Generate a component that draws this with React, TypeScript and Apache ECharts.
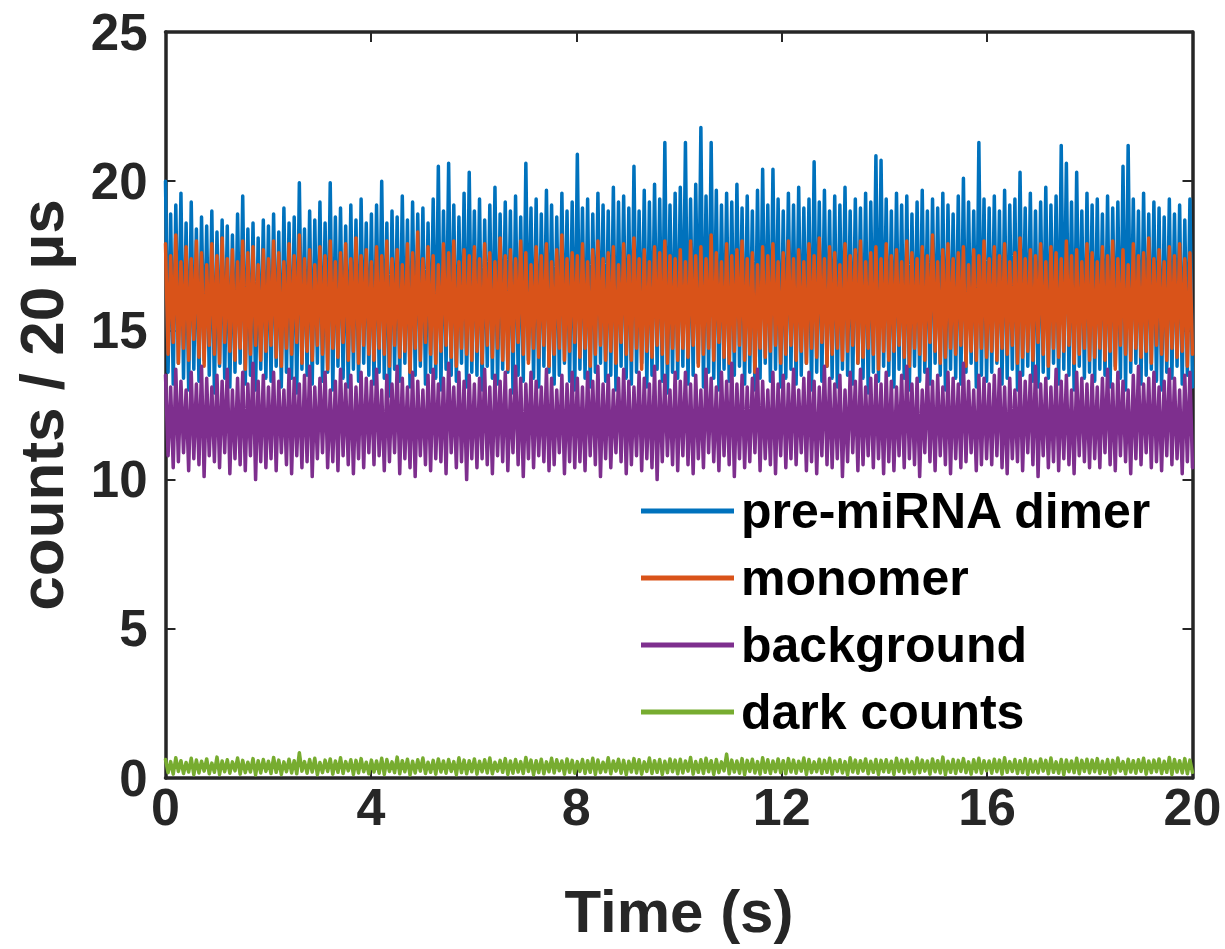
import React, { useEffect, useRef } from "react";
import * as echarts from "echarts";

// ---- categories / labels ----
const seriesNames = ["pre-miRNA dimer", "monomer", "background", "dark counts"];
const seriesColors = ["#0072BD", "#D95319", "#7E2F8E", "#77AC30"];
const xTicks = [0, 4, 8, 12, 16, 20];
const yTicks = [0, 5, 10, 15, 20, 25];
const xTitle = "Time (s)";
const yTitle = "counts / 20 µs";

// ---- series values: upper (peak) and lower (trough) envelope, every 0.1 s ----
const dimerUpper = [
  20.0, 18.9, 19.2, 19.6, 18.6, 19.3, 18.4, 18.8, 18.5, 19.0, 18.3, 18.7, 18.5, 18.2, 18.9, 19.5, 18.4, 18.6, 18.1, 18.7,
  18.5, 18.9, 18.3, 19.1, 18.6, 18.8, 19.95, 18.4, 19.0, 18.7, 19.3, 18.6, 19.95, 18.8, 19.1, 18.5, 19.2, 18.7, 19.4, 18.6,
  18.9, 19.2, 20.0, 18.6, 19.0, 18.8, 19.5, 18.7, 19.3, 18.9, 19.1, 18.6, 19.4, 20.5, 19.0, 20.6, 19.2, 18.8, 19.6, 20.3,
  19.0, 19.4, 18.7, 19.2, 19.8, 18.9, 19.3, 19.0, 19.5, 18.8, 20.6, 19.1, 19.4, 18.9, 19.7, 19.2, 18.8, 19.6, 19.0, 19.3,
  20.9, 19.1, 19.4, 18.9, 19.6, 19.2, 19.0, 19.8, 19.3, 19.5, 19.1, 20.5, 19.0, 19.7, 19.3, 19.9, 19.4, 21.3, 19.2, 19.6,
  19.8, 21.3, 19.4, 19.9, 21.8, 19.5, 21.3, 19.7, 19.2, 19.6, 19.3, 19.9, 19.1, 19.5, 19.0, 19.7, 20.4, 19.2, 20.4, 19.4,
  19.0, 19.6, 19.2, 19.8, 19.1, 19.4, 20.65, 19.3, 19.7, 19.0, 19.5, 19.2, 19.8, 19.0, 19.4, 19.1, 19.6, 19.3, 20.85, 20.7,
  19.4, 19.0, 19.6, 19.2, 19.5, 18.9, 19.3, 19.7, 19.0, 19.4, 19.1, 19.6, 19.2, 18.9, 19.5, 20.1, 19.3, 19.0, 21.3, 19.4,
  19.1, 19.5, 19.0, 19.7, 19.2, 19.4, 20.3, 19.1, 19.6, 19.0, 19.3, 19.8, 19.2, 19.5, 21.2, 20.6, 19.3, 20.3, 19.0, 19.6,
  19.2, 19.4, 18.9, 19.5, 19.1, 19.3, 20.5, 21.2, 19.4, 19.0, 19.6, 18.9, 19.3, 19.1, 18.8, 19.4, 18.9, 19.2, 18.7, 19.4,
];
const dimerLower = [
  13.6, 13.2, 13.9, 13.4, 13.0, 13.7, 13.3, 14.0, 13.5, 12.9, 13.8, 13.4, 13.1, 13.6, 13.9, 13.2, 13.5, 13.0, 13.7, 13.4,
  13.3, 13.8, 13.1, 13.6, 13.4, 12.9, 13.7, 13.5, 13.2, 13.9, 13.3, 13.6, 13.0, 13.8, 13.4, 13.1, 13.7, 13.3, 13.9, 13.5,
  13.2, 13.6, 13.4, 12.8, 13.7, 13.3, 13.9, 13.1, 13.5, 13.8, 13.2, 13.6, 13.4, 13.0, 13.7, 13.5, 13.3, 13.9, 13.1, 13.6,
  13.5, 13.0, 13.8, 13.4, 13.2, 13.7, 13.6, 12.9, 13.5, 13.3, 14.0, 13.4, 13.1, 13.8, 13.6, 13.2, 13.5, 13.9, 13.3, 13.0,
  13.7, 13.4, 13.1, 13.6, 13.9, 13.3, 13.5, 13.0, 13.8, 13.4, 13.2, 13.6, 13.9, 13.1, 13.5, 13.7, 13.3, 12.9, 13.6, 13.4,
  13.8, 13.2, 13.5, 13.9, 13.1, 13.6, 13.4, 13.0, 13.7, 13.3, 13.5, 13.8, 13.2, 13.6, 13.0, 13.4, 13.9, 13.3, 13.7, 13.1,
  13.4, 13.7, 13.2, 13.5, 13.9, 13.0, 13.6, 13.3, 13.8, 13.4, 13.1, 13.7, 13.5, 13.2, 13.9, 13.4, 12.9, 13.6, 13.3, 13.8,
  13.5, 13.1, 13.7, 13.4, 13.0, 13.8, 13.3, 13.6, 13.2, 13.9, 13.5, 13.0, 13.7, 13.4, 13.2, 13.6, 13.9, 13.1, 13.5, 13.3,
  13.6, 13.9, 13.2, 13.4, 13.7, 13.0, 13.5, 13.8, 13.3, 13.1, 13.6, 13.4, 13.9, 13.2, 13.7, 13.5, 13.0, 13.8, 13.4, 13.6,
  13.3, 13.7, 13.5, 13.1, 13.8, 13.4, 13.0, 13.6, 13.9, 13.2, 13.5, 13.7, 13.3, 13.0, 13.6, 13.4, 13.8, 13.2, 13.5, 13.1,
];
const monomerUpper = [
  17.9, 17.5, 18.2, 17.3, 17.8, 17.4, 18.0, 17.6, 17.2, 17.9, 17.5, 18.1, 17.4, 17.7, 17.3, 18.0, 17.6, 17.8, 17.2, 17.7,
  17.4, 18.0, 17.6, 17.3, 17.9, 17.5, 18.2, 17.4, 17.7, 17.2, 17.8, 17.5, 18.0, 17.3, 17.6, 17.9, 17.4, 18.1, 17.5, 17.7,
  17.3, 17.8, 17.5, 18.0, 17.4, 17.7, 17.2, 17.9, 17.6, 18.3, 17.4, 17.8, 17.5, 17.2, 17.9, 17.6, 18.0, 17.3, 17.7, 17.5,
  17.8, 17.4, 17.9, 17.6, 17.3, 18.1, 17.5, 17.7, 17.4, 18.0, 17.6, 17.2, 17.8, 17.5, 17.9, 17.3, 17.7, 18.2, 17.4, 17.6,
  17.5, 17.9, 17.3, 17.7, 18.0, 17.4, 17.6, 17.8, 17.2, 17.9, 17.5, 18.1, 17.4, 17.7, 17.3, 17.8, 17.6, 18.0, 17.5, 17.4,
  17.7, 17.3, 18.0, 17.5, 17.8, 17.4, 18.2, 17.6, 17.3, 17.9, 17.5, 17.7, 18.0, 17.4, 17.6, 17.2, 17.8, 17.5, 17.9, 17.3,
  17.6, 18.0, 17.4, 17.7, 17.3, 17.9, 17.5, 18.1, 17.4, 17.8, 17.6, 17.2, 17.9, 17.5, 17.7, 18.0, 17.3, 17.6, 17.8, 17.4,
  17.9, 17.5, 17.7, 17.3, 18.0, 17.6, 17.4, 17.8, 17.5, 18.2, 17.3, 17.7, 17.9, 17.4, 17.6, 17.8, 17.2, 17.7, 17.5, 18.0,
  17.4, 17.8, 17.5, 17.9, 17.3, 17.6, 18.1, 17.4, 17.7, 17.5, 17.9, 17.3, 17.8, 17.6, 17.4, 18.0, 17.5, 17.7, 17.3, 17.9,
  17.6, 17.3, 17.8, 17.5, 18.0, 17.4, 17.7, 17.2, 17.9, 17.5, 17.6, 18.1, 17.4, 17.7, 17.3, 17.8, 17.5, 17.9, 17.4, 17.6,
];
const monomerLower = [
  14.2, 14.6, 13.9, 14.4, 14.0, 14.7, 14.1, 13.8, 14.5, 14.2, 13.9, 14.6, 14.3, 14.0, 14.4, 13.7, 14.2, 14.5, 14.0, 14.3,
  14.5, 14.1, 13.8, 14.4, 14.2, 14.6, 13.9, 14.3, 14.0, 14.5, 14.2, 13.7, 14.4, 14.1, 14.6, 14.0, 14.3, 13.9, 14.5, 14.2,
  14.0, 14.4, 14.2, 13.8, 14.5, 14.1, 14.3, 13.6, 14.4, 14.0, 14.6, 14.2, 13.9, 14.3, 14.5, 14.1, 13.8, 14.4, 14.2, 14.0,
  14.3, 13.9, 14.5, 14.1, 14.4, 14.0, 13.7, 14.3, 14.6, 14.2, 13.9, 14.4, 14.1, 14.5, 13.8, 14.2, 14.4, 14.0, 14.3, 14.6,
  14.1, 14.4, 13.8, 14.2, 14.5, 14.0, 14.3, 13.9, 14.6, 14.2, 14.0, 14.4, 13.7, 14.3, 14.1, 14.5, 14.2, 13.9, 14.4, 14.0,
  14.4, 14.1, 14.5, 13.8, 14.2, 14.4, 14.0, 14.6, 14.1, 13.9, 14.3, 14.5, 14.0, 14.2, 13.6, 14.4, 14.1, 14.3, 14.5, 13.9,
  14.2, 14.5, 14.0, 14.3, 13.9, 14.4, 14.1, 14.6, 13.8, 14.2, 14.4, 14.0, 14.3, 14.5, 13.9, 14.1, 14.4, 14.2, 13.7, 14.3,
  14.0, 14.3, 14.5, 14.1, 13.8, 14.4, 14.2, 14.0, 14.6, 14.3, 13.9, 14.1, 14.4, 14.2, 14.5, 13.8, 14.3, 14.0, 14.4, 14.1,
  14.3, 14.0, 14.4, 14.2, 14.5, 13.9, 14.1, 14.3, 14.0, 14.6, 14.2, 13.8, 14.4, 14.1, 14.3, 14.5, 13.9, 14.2, 14.4, 14.0,
  14.1, 14.4, 14.0, 14.3, 13.7, 14.5, 14.2, 14.0, 14.4, 14.1, 14.3, 13.9, 14.5, 14.2, 14.0, 14.4, 14.1, 14.3, 13.8, 14.2,
];
const backgroundUpper = [
  13.5, 13.1, 13.7, 13.3, 13.0, 13.6, 13.2, 13.8, 13.4, 13.1, 13.5, 13.3, 13.7, 13.0, 13.4, 13.6, 13.2, 13.9, 13.3, 13.5,
  13.1, 13.6, 13.3, 13.0, 13.7, 13.4, 13.2, 13.5, 13.8, 13.1, 13.4, 13.6, 13.0, 13.3, 13.7, 13.2, 13.5, 13.1, 13.6, 13.4,
  13.3, 13.7, 13.0, 13.5, 13.2, 13.8, 13.4, 13.1, 13.6, 13.3, 13.0, 13.5, 13.7, 13.2, 13.4, 13.9, 13.1, 13.6, 13.3, 13.5,
  13.2, 13.4, 13.7, 13.1, 13.5, 13.3, 13.6, 13.0, 13.8, 13.4, 13.2, 13.6, 13.3, 13.1, 13.7, 13.4, 13.0, 13.5, 13.2, 13.6,
  13.4, 13.1, 13.6, 13.3, 13.8, 13.2, 13.5, 13.0, 13.4, 13.7, 13.3, 13.1, 13.6, 13.4, 13.2, 13.8, 13.3, 13.5, 13.0, 13.6,
  13.3, 13.6, 13.2, 13.5, 13.0, 13.7, 13.4, 13.1, 13.6, 13.3, 13.9, 13.2, 13.5, 13.1, 13.4, 13.7, 13.3, 13.0, 13.6, 13.2,
  13.5, 13.2, 13.7, 13.0, 13.4, 13.6, 13.3, 13.1, 13.8, 13.4, 13.2, 13.5, 13.0, 13.6, 13.3, 13.7, 13.1, 13.4, 13.5, 13.2,
  13.6, 13.3, 13.1, 13.5, 13.8, 13.2, 13.4, 13.0, 13.7, 13.3, 13.5, 13.1, 13.6, 13.4, 13.2, 13.9, 13.3, 13.0, 13.5, 13.4,
  13.2, 13.5, 13.7, 13.1, 13.4, 13.0, 13.6, 13.3, 13.5, 13.8, 13.2, 13.4, 13.1, 13.7, 13.3, 13.5, 13.0, 13.6, 13.4, 13.2,
  13.5, 13.1, 13.4, 13.7, 13.2, 13.6, 13.3, 13.0, 13.5, 13.8, 13.2, 13.4, 13.6, 13.1, 13.3, 13.7, 13.4, 13.0, 13.5, 13.6,
];
const backgroundLower = [
  10.8, 10.4, 10.6, 10.9, 10.3, 10.7, 10.5, 10.1, 10.8, 10.6, 10.4, 10.9, 10.2, 10.7, 10.5, 10.3, 10.8, 10.0, 10.6, 10.4,
  10.7, 10.3, 10.9, 10.5, 10.2, 10.8, 10.4, 10.6, 10.1, 10.7, 10.9, 10.4, 10.6, 10.3, 10.8, 10.5, 10.2, 10.7, 10.4, 10.9,
  10.5, 10.8, 10.3, 10.6, 10.9, 10.2, 10.7, 10.4, 10.1, 10.8, 10.5, 10.3, 10.7, 10.6, 10.2, 10.9, 10.4, 10.6, 10.0, 10.7,
  10.4, 10.7, 10.5, 10.2, 10.8, 10.6, 10.3, 10.9, 10.5, 10.1, 10.7, 10.4, 10.8, 10.6, 10.3, 10.5, 10.9, 10.2, 10.6, 10.4,
  10.6, 10.3, 10.8, 10.5, 10.1, 10.7, 10.4, 10.9, 10.6, 10.2, 10.5, 10.8, 10.3, 10.7, 10.4, 10.0, 10.6, 10.8, 10.5, 10.3,
  10.8, 10.5, 10.2, 10.7, 10.4, 10.9, 10.6, 10.3, 10.8, 10.5, 10.1, 10.7, 10.4, 10.6, 10.9, 10.3, 10.7, 10.5, 10.2, 10.8,
  10.4, 10.7, 10.5, 10.9, 10.3, 10.6, 10.2, 10.8, 10.5, 10.4, 10.7, 10.1, 10.6, 10.9, 10.3, 10.5, 10.8, 10.4, 10.7, 10.2,
  10.6, 10.3, 10.8, 10.4, 10.7, 10.5, 10.1, 10.9, 10.6, 10.3, 10.8, 10.5, 10.2, 10.7, 10.4, 10.6, 10.9, 10.3, 10.5, 10.7,
  10.5, 10.8, 10.4, 10.2, 10.7, 10.6, 10.3, 10.9, 10.5, 10.1, 10.8, 10.4, 10.6, 10.3, 10.7, 10.5, 10.2, 10.8, 10.6, 10.4,
  10.7, 10.4, 10.9, 10.5, 10.3, 10.8, 10.6, 10.2, 10.7, 10.5, 10.9, 10.4, 10.6, 10.3, 10.8, 10.5, 10.7, 10.2, 10.6, 10.4,
];
const darkUpper = [
  0.62, 0.55, 0.68, 0.58, 0.52, 0.66, 0.60, 0.56, 0.64, 0.50, 0.70, 0.57, 0.61, 0.54, 0.67, 0.59, 0.53, 0.65, 0.58, 0.62,
  0.56, 0.69, 0.60, 0.54, 0.63, 0.58, 0.85, 0.55, 0.62, 0.66, 0.52, 0.60, 0.64, 0.57, 0.68, 0.55, 0.61, 0.59, 0.65, 0.53,
  0.60, 0.57, 0.66, 0.62, 0.54, 0.70, 0.58, 0.63, 0.56, 0.61, 0.67, 0.53, 0.59, 0.64, 0.57, 0.62, 0.55, 0.68, 0.60, 0.58,
  0.64, 0.56, 0.61, 0.67, 0.53, 0.59, 0.65, 0.57, 0.62, 0.55, 0.69, 0.60, 0.58, 0.63, 0.54, 0.66, 0.61, 0.57, 0.64, 0.59,
  0.55, 0.62, 0.58, 0.66, 0.60, 0.53, 0.68, 0.57, 0.63, 0.59, 0.56, 0.65, 0.61, 0.54, 0.67, 0.58, 0.62, 0.56, 0.64, 0.60,
  0.63, 0.57, 0.69, 0.55, 0.61, 0.66, 0.58, 0.62, 0.54, 0.80, 0.60, 0.57, 0.65, 0.59, 0.63, 0.55, 0.68, 0.61, 0.57, 0.64,
  0.58, 0.65, 0.60, 0.56, 0.67, 0.62, 0.54, 0.63, 0.59, 0.66, 0.57, 0.61, 0.55, 0.68, 0.60, 0.58, 0.64, 0.56, 0.62, 0.59,
  0.61, 0.56, 0.66, 0.59, 0.63, 0.55, 0.67, 0.60, 0.57, 0.64, 0.58, 0.70, 0.56, 0.62, 0.59, 0.65, 0.54, 0.61, 0.66, 0.58,
  0.57, 0.63, 0.60, 0.68, 0.55, 0.62, 0.58, 0.65, 0.61, 0.56, 0.64, 0.59, 0.67, 0.54, 0.62, 0.60, 0.57, 0.66, 0.59, 0.63,
  0.60, 0.65, 0.56, 0.62, 0.59, 0.67, 0.55, 0.63, 0.58, 0.61, 0.66, 0.57, 0.60, 0.64, 0.56, 0.69, 0.62, 0.58, 0.65, 0.60,
];
const darkLower = [
  0.18, 0.13, 0.22, 0.15, 0.20, 0.11, 0.17, 0.23, 0.14, 0.19, 0.12, 0.21, 0.16, 0.24, 0.13, 0.18, 0.20, 0.10, 0.17, 0.22,
  0.15, 0.19, 0.12, 0.21, 0.17, 0.14, 0.23, 0.16, 0.20, 0.11, 0.18, 0.22, 0.13, 0.19, 0.15, 0.24, 0.12, 0.17, 0.21, 0.14,
  0.20, 0.16, 0.12, 0.22, 0.18, 0.14, 0.21, 0.10, 0.17, 0.23, 0.15, 0.19, 0.13, 0.20, 0.16, 0.22, 0.11, 0.18, 0.14, 0.21,
  0.13, 0.21, 0.17, 0.14, 0.23, 0.19, 0.12, 0.16, 0.20, 0.15, 0.22, 0.11, 0.18, 0.14, 0.21, 0.17, 0.24, 0.13, 0.19, 0.16,
  0.22, 0.15, 0.19, 0.12, 0.18, 0.21, 0.14, 0.23, 0.16, 0.11, 0.20, 0.17, 0.13, 0.22, 0.15, 0.19, 0.12, 0.18, 0.21, 0.14,
  0.17, 0.23, 0.13, 0.19, 0.15, 0.21, 0.12, 0.18, 0.24, 0.14, 0.20, 0.16, 0.11, 0.22, 0.17, 0.13, 0.19, 0.15, 0.21, 0.18,
  0.14, 0.20, 0.16, 0.23, 0.12, 0.18, 0.21, 0.15, 0.19, 0.13, 0.22, 0.17, 0.10, 0.20, 0.16, 0.23, 0.14, 0.19, 0.12, 0.21,
  0.19, 0.12, 0.22, 0.16, 0.20, 0.14, 0.18, 0.23, 0.13, 0.21, 0.17, 0.11, 0.19, 0.15, 0.22, 0.18, 0.13, 0.20, 0.16, 0.24,
  0.16, 0.21, 0.13, 0.19, 0.22, 0.15, 0.18, 0.12, 0.20, 0.17, 0.23, 0.14, 0.19, 0.16, 0.11, 0.21, 0.18, 0.14, 0.22, 0.17,
  0.21, 0.15, 0.19, 0.12, 0.17, 0.23, 0.14, 0.20, 0.16, 0.22, 0.13, 0.18, 0.21, 0.15, 0.19, 0.12, 0.20, 0.17, 0.14, 0.19,
];

const envelopes: [number[], number[]][] = [
  [dimerUpper, dimerLower],
  [monomerUpper, monomerLower],
  [backgroundUpper, backgroundLower],
  [darkUpper, darkLower],
];

const X_MIN = xTicks[0];
const X_MAX = xTicks[xTicks.length - 1];

// alternate peak / trough samples over the time axis
function traceFrom(upper: number[], lower: number[]): [number, number][] {
  const n = upper.length;
  const step = (X_MAX - X_MIN) / (2 * n - 1);
  const out: [number, number][] = [];
  for (let i = 0; i < n; i++) {
    out.push([X_MIN + 2 * i * step, upper[i]]);
    out.push([X_MIN + (2 * i + 1) * step, lower[i]]);
  }
  return out;
}

const AXIS_COLOR = "#262626";
const FONT = "'Liberation Sans', Arial, Helvetica, sans-serif";

export default function App() {
  const ref = useRef<HTMLDivElement>(null);

  useEffect(() => {
    if (!ref.current) return;
    const chart = echarts.init(ref.current, undefined, { renderer: "svg" });

    const axisLine = { show: true, onZero: false, lineStyle: { color: AXIS_COLOR, width: 3.5 } };
    const axisTick = { show: true, inside: true, length: 10, lineStyle: { color: AXIS_COLOR, width: 2 } };

    chart.setOption({
      animation: false,
      backgroundColor: "#ffffff",
      grid: { left: 165.5, right: 32.5, top: 32, bottom: 171, containLabel: false },
      legend: {
        show: true,
        orient: "vertical",
        left: 636,
        top: 481,
        icon: "rect",
        itemWidth: 93,
        itemHeight: 5,
        itemGap: 17,
        selectedMode: false,
        data: seriesNames,
        textStyle: {
          color: "#000000",
          fontFamily: FONT,
          fontWeight: "bold",
          fontSize: 50,
          lineHeight: 50,
          padding: [0, 0, 0, 2],
        },
      },
      xAxis: [
        {
          type: "value",
          position: "bottom",
          min: X_MIN,
          max: X_MAX,
          interval: xTicks[1] - xTicks[0],
          axisLine,
          axisTick,
          splitLine: { show: false },
          axisLabel: {
            color: AXIS_COLOR,
            fontFamily: FONT,
            fontWeight: "bold",
            fontSize: 52,
            margin: 3,
          },
          name: xTitle,
          nameLocation: "middle",
          nameGap: 103,
          nameTextStyle: { color: AXIS_COLOR, fontFamily: FONT, fontWeight: "bold", fontSize: 60 },
        },
        {
          type: "value",
          position: "top",
          min: X_MIN,
          max: X_MAX,
          interval: xTicks[1] - xTicks[0],
          axisLine,
          axisTick,
          axisLabel: { show: false },
          splitLine: { show: false },
        },
      ],
      yAxis: [
        {
          type: "value",
          position: "left",
          min: yTicks[0],
          max: yTicks[yTicks.length - 1],
          interval: yTicks[1] - yTicks[0],
          axisLine,
          axisTick,
          splitLine: { show: false },
          axisLabel: {
            color: AXIS_COLOR,
            fontFamily: FONT,
            fontWeight: "bold",
            fontSize: 51,
            margin: 18,
          },
          name: yTitle,
          nameLocation: "middle",
          nameRotate: 90,
          nameGap: 93,
          nameTextStyle: { color: AXIS_COLOR, fontFamily: FONT, fontWeight: "bold", fontSize: 62 },
        },
        {
          type: "value",
          position: "right",
          min: yTicks[0],
          max: yTicks[yTicks.length - 1],
          interval: yTicks[1] - yTicks[0],
          axisLine,
          axisTick,
          axisLabel: { show: false },
          splitLine: { show: false },
        },
      ],
      series: seriesNames.map((name, k) => ({
        name,
        type: "line",
        xAxisIndex: 0,
        yAxisIndex: 0,
        data: traceFrom(envelopes[k][0], envelopes[k][1]),
        showSymbol: false,
        symbol: "none",
        clip: true,
        color: seriesColors[k],
        lineStyle: { color: seriesColors[k], width: 3.5, join: "round", cap: "round" },
        emphasis: { disabled: true },
        z: 2 + k,
      })),
    });

    return () => {
      chart.dispose();
    };
  }, []);

  return (
    <div
      ref={ref}
      style={{ position: "fixed", left: 0, top: 0, width: 1225, height: 949, background: "#ffffff" }}
    />
  );
}
